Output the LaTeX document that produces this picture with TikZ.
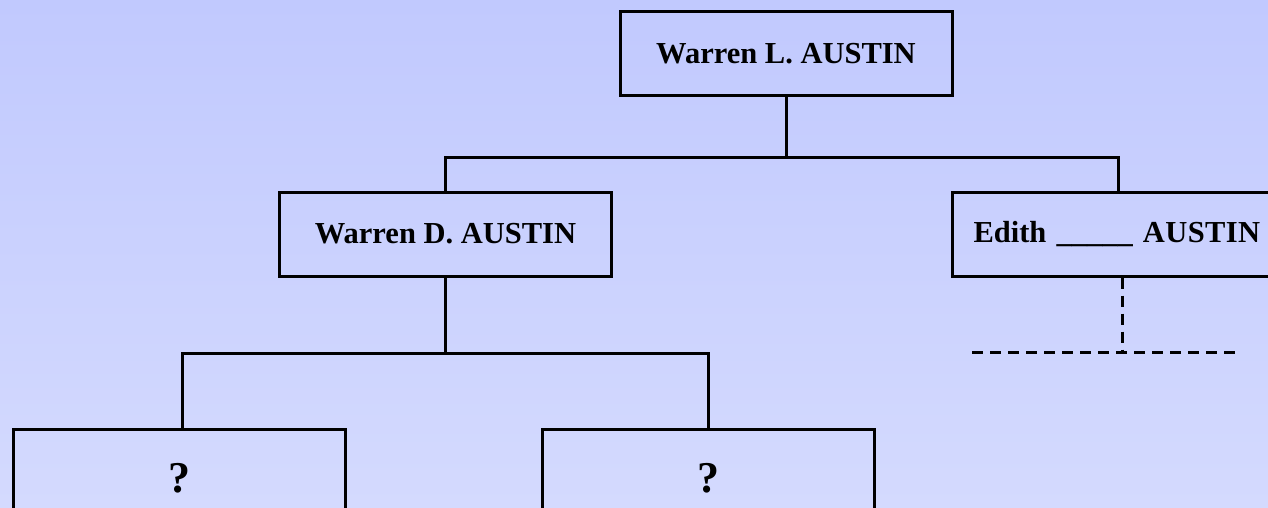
\documentclass[tikz,border=0pt]{standalone}
\usepackage{fontspec}
\setmainfont{Liberation Serif}
\definecolor{bgtop}{RGB}{193,201,254}
\definecolor{bgbot}{RGB}{212,218,254}
\begin{document}
\begin{tikzpicture}[x=1pt,y=-1pt,
  person/.style={draw=black, line width=3pt, minimum width=332pt, minimum height=84pt,
    inner sep=0pt, font=\fontsize{30.5}{36}\selectfont\bfseries},
  qmark/.style={person, font=\fontsize{44}{50}\selectfont\bfseries, text height=42pt, text depth=0pt},
  link/.style={draw=black, line width=3pt},
  dlink/.style={draw=black, line width=3pt, dash pattern=on 11pt off 7pt}]
\shade[top color=bgtop, bottom color=bgbot] (0,0) rectangle (1268,508);
\useasboundingbox (0,0) rectangle (1268,508);

\node[person] (top) at (786,54) {Warren L. AUSTIN};
\node[person] (wd) at (445.5,234) {Warren D. AUSTIN};
\node[person, anchor=west, minimum width=0pt, text width=306pt, align=left, inner xsep=21pt] (edith) at (951,234) {Edith \_\_\_\_\_ A\kern0.4ptU\kern0.4ptS\kern0.4ptT\kern0.4ptI\kern0.4ptN};
\node[qmark] (q1) at (179,471) {?};
\node[qmark] (q2) at (708.5,471) {?};

\coordinate (j1) at (786,157);
\coordinate (j2) at (445.5,353);
\coordinate (dl) at (972,352);
\coordinate (dr) at (1236,352);

\draw[link] (top.south) -- (j1);
\draw[link] (wd.north) |- (j1) -| ([xshift=-8pt]edith.north);
\draw[link] (wd.south) -- (j2);
\draw[link] ([xshift=3pt]q1.north) |- (j2) -| (q2.north);
\draw[dlink] ([xshift=-4pt]edith.south) -- ([xshift=-4pt]edith.south |- dl);
\draw[dlink] (dl) -- (dr);
\end{tikzpicture}
\end{document}
